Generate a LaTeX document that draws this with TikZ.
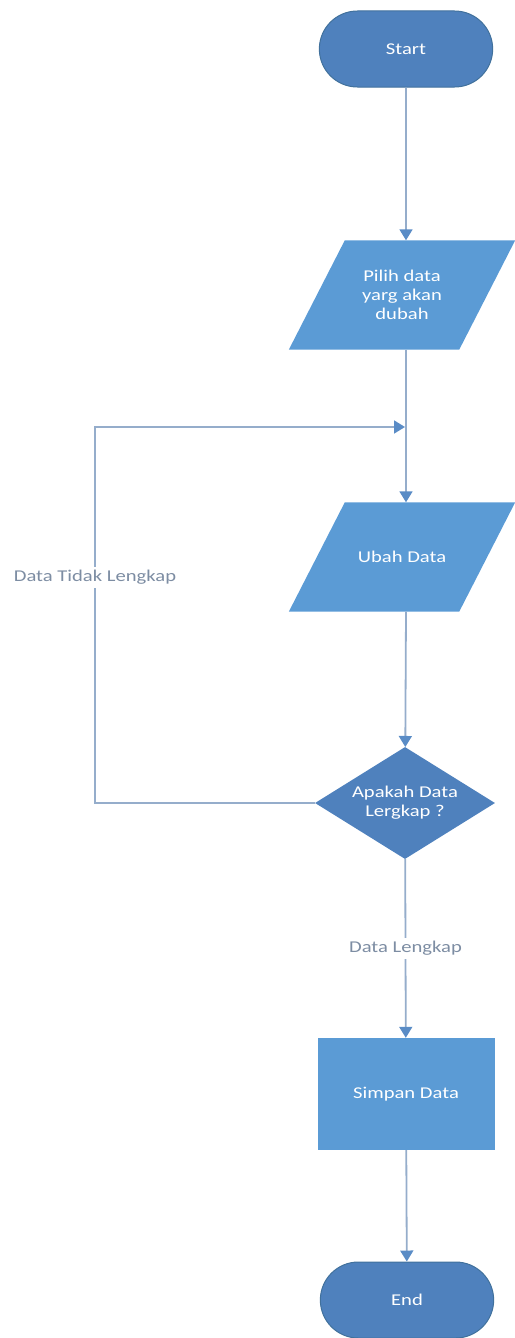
\documentclass[tikz,border=0pt]{standalone}
\usepackage{fontspec}
\setmainfont[FakeStretch=1.25]{Carlito}
\usepackage{tikz}
\usetikzlibrary{shapes.geometric,shapes.misc,arrows.meta,backgrounds}
\definecolor{darkfill}{HTML}{4F81BD}
\definecolor{lightfill}{HTML}{5B9BD5}
\definecolor{edgeblue}{HTML}{41719C}
\definecolor{linegray}{HTML}{95ADCB}
\definecolor{tipblue}{HTML}{5A8CC6}
\definecolor{labelgray}{HTML}{7D8DA3}
\tikzset{
  terminal/.style={rounded rectangle, fill=darkfill, draw=edgeblue, line width=1pt, minimum width=180pt, minimum height=76pt, text=white},
  iobox/.style={rectangle, minimum width=170pt, minimum height=109pt, inner sep=0pt, text=white, align=center},
  decision/.style={diamond, shape aspect=1.6, fill=darkfill, minimum width=180pt, minimum height=112pt, inner sep=0pt, text=white, align=center},
  process/.style={rectangle, fill=lightfill, minimum width=177pt, minimum height=112pt, text=white},
  flow/.style={draw=linegray, line width=1.8pt, -{Triangle[length=11pt,width=13pt,color=tipblue]}},
  flowlabel/.style={fill=white, text=labelgray}
}
\begin{document}
\begin{tikzpicture}[x=1pt,y=-1pt,font=\fontsize{16.5}{19}\selectfont]
    \useasboundingbox (0,0) rectangle (514,1338);
    \node [terminal] (start) at (406,49) {Start};
    \node [iobox] (pilih) at (402,295) {Pilih data\\yarg akan\\dubah};
    \node [iobox] (ubah) at (402,557) {Ubah Data};
    \node [decision] (cek) at (405,803) {Apakah Data\\Lergkap ?};
    \node [process] (simpan) at (406,1094) {Simpan Data};
    \node [terminal] (end) at (407,1300) {End};
    \begin{scope}[on background layer]
      \foreach \n in {pilih,ubah}
        \fill [lightfill] ([xshift=28pt]\n.north west) -- ([xshift=28pt]\n.north east)
          -- ([xshift=-28pt]\n.south east) -- ([xshift=-28pt]\n.south west) -- cycle;
    \end{scope}
    \coordinate (loop) at (95,427);
    \coordinate (join) at (405,427);
    \draw [flow] (start) -- (start |- pilih.north);
    \draw [flow] (start |- pilih.south) -- (start |- ubah.north);
    \draw [flow] (start |- ubah.south) -- (cek);
    \draw [flow] (cek) -- node [flowlabel] {Data Lengkap} (simpan);
    \draw [flow] (simpan) -- (end);
    \draw [flow] (cek.west) -| node [flowlabel, pos=0.8] {Data Tidak Lengkap} (loop) -- (join);
  \end{tikzpicture}
\end{document}
